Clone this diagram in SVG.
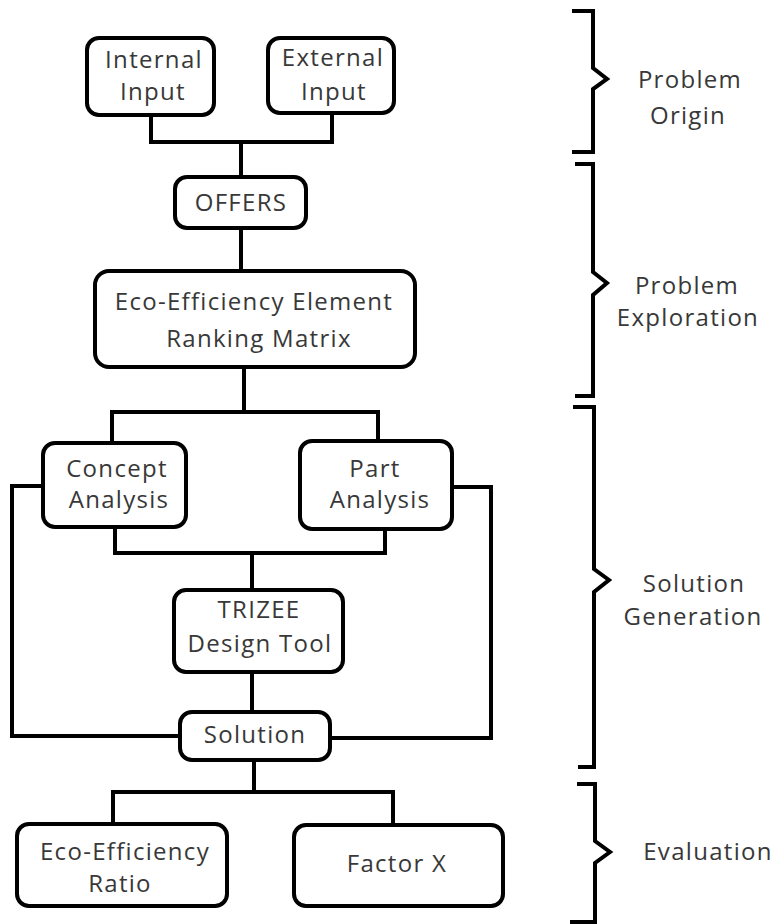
<svg xmlns="http://www.w3.org/2000/svg" width="777" height="924" viewBox="0 0 777 924">
<style>
.box{fill:#fff;stroke:#000;stroke-width:4}
.ln{fill:none;stroke:#000;stroke-width:4;stroke-linejoin:miter}
.br{fill:none;stroke:#000;stroke-width:4;stroke-linejoin:miter}
text{font-family:"Open Sans","DejaVu Sans",sans-serif;font-size:24px;fill:#383838;text-anchor:middle;letter-spacing:1.3px}
</style>
<rect width="777" height="924" fill="#fff"/>
<g id="connectors">
<path class="ln" d="M151 115V142H332V113M241 142V177"/>
<path class="ln" d="M241 228V271"/>
<path class="ln" d="M244 367V412M112 443V412H378V441"/>
<path class="ln" d="M115 527V553H385V529M252 553V590"/>
<path class="ln" d="M252 672V712"/>
<path class="ln" d="M43 486H12V736H180"/>
<path class="ln" d="M452 487H491V738H330"/>
<path class="ln" d="M254 760V792M113 824V792H393V825"/>
</g>
<g id="brackets">
<path class="br" d="M572 11H593V68L607 79L593 89V152H572"/>
<path class="br" d="M575 164H593V272L607 283L593 295V396H575"/>
<path class="br" d="M573 407H594V569L609 580L594 592V767H578"/>
<path class="br" d="M577 784H595V841L610 852L595 863V922H570"/>
</g>
<g id="labels">
<text x="690" y="88">Problem</text>
<text x="688" y="124">Origin</text>
<text x="687" y="294">Problem</text>
<text x="688" y="326">Exploration</text>
<text x="694" y="592">Solution</text>
<text x="693" y="625">Generation</text>
<text x="708" y="860">Evaluation</text>
</g>
<g id="internal-input">
<rect class="box" x="87" y="38" width="127" height="77" rx="12"/>
<text x="154" y="68">Internal</text>
<text x="153" y="100">Input</text>
</g>
<g id="external-input">
<rect class="box" x="268" y="38" width="126" height="75" rx="12"/>
<text x="333" y="66">External</text>
<text x="334" y="100">Input</text>
</g>
<g id="offers">
<rect class="box" x="175" y="177" width="131" height="51" rx="12"/>
<text x="241" y="211">OFFERS</text>
</g>
<g id="ranking-matrix">
<rect class="box" x="95" y="271" width="320" height="96" rx="14"/>
<text x="254" y="310">Eco-Efficiency Element</text>
<text x="259" y="347">Ranking Matrix</text>
</g>
<g id="concept-analysis">
<rect class="box" x="43" y="443" width="143" height="84" rx="12"/>
<text x="117" y="477">Concept</text>
<text x="119" y="508">Analysis</text>
</g>
<g id="part-analysis">
<rect class="box" x="300" y="441" width="152" height="88" rx="12"/>
<text x="375" y="477">Part</text>
<text x="380" y="508">Analysis</text>
</g>
<g id="trizee">
<rect class="box" x="174" y="590" width="169" height="82" rx="12"/>
<text x="259" y="618">TRIZEE</text>
<text x="260" y="652">Design Tool</text>
</g>
<g id="solution">
<rect class="box" x="180" y="712" width="150" height="48" rx="12"/>
<text x="255" y="743">Solution</text>
</g>
<g id="eco-efficiency-ratio">
<rect class="box" x="17" y="824" width="210" height="82" rx="12"/>
<text x="125" y="860">Eco-Efficiency</text>
<text x="120" y="892">Ratio</text>
</g>
<g id="factor-x">
<rect class="box" x="294" y="825" width="209" height="81" rx="12"/>
<text x="397" y="872">Factor X</text>
</g>
</svg>
